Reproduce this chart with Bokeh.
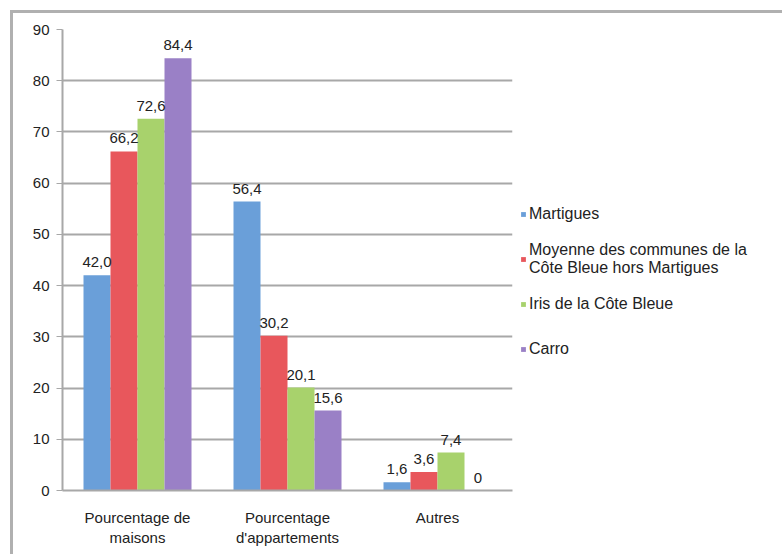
from bokeh.plotting import figure
from bokeh.models import ColumnDataSource, Legend, LegendItem, FactorRange, LabelSet
from bokeh.core.properties import value
from bokeh.transform import dodge
from bokeh.embed import file_html
from bokeh.resources import INLINE

categories = ["Pourcentage de\nmaisons", "Pourcentage\nd'appartements", "Autres"]
series = ["Martigues", "Moyenne des communes de la\nCôte Bleue hors Martigues", "Iris de la Côte Bleue", "Carro"]
martigues = [42.0, 56.4, 1.6]
moyenne = [66.2, 30.2, 3.6]
iris = [72.6, 20.1, 7.4]
carro = [84.4, 15.6, 0.0]
colors = ["#6a9fd9", "#e8575c", "#a8d26c", "#9a80c6"]
yticks = [0, 10, 20, 30, 40, 50, 60, 70, 80, 90]

FONT = "Liberation Sans"

p = figure(frame_width=450, frame_height=461, x_range=FactorRange(*categories), y_range=(0, 90),
           output_backend="svg", toolbar_location=None,
           min_border_left=49, min_border_right=258, min_border_top=16, min_border_bottom=64)
p.margin = (10, 0, 0, 10)
p.styles = {"border-top": "3px solid #b0b0b0", "border-left": "3px solid #b0b0b0"}
p.outline_line_color = None
p.xgrid.grid_line_color = None
p.ygrid.grid_line_color = "#a8a8a8"
p.ygrid.grid_line_width = 2
p.yaxis.ticker = yticks
p.yaxis.axis_line_color = "#a8a8a8"
p.yaxis.axis_line_width = 2
p.yaxis.major_tick_line_color = "#a8a8a8"
p.yaxis.major_tick_out = 6
p.yaxis.major_tick_in = 0
p.yaxis.minor_tick_line_color = None
p.yaxis.major_label_standoff = 7
p.yaxis.major_label_text_font = FONT
p.yaxis.major_label_text_font_size = "15px"
p.yaxis.major_label_text_color = "#222222"
p.xaxis.axis_line_color = "#a8a8a8"
p.xaxis.axis_line_width = 2
p.xaxis.major_tick_line_color = None
p.xaxis.major_label_text_font = FONT
p.xaxis.major_label_text_font_size = "15px"
p.xaxis.major_label_text_color = "#222222"
p.xaxis.major_label_standoff = 12

def fmt(v):
    return ("%.1f" % v).replace(".", ",") if v != 0 else "0"

values = [martigues, moyenne, iris, carro]
offsets = [-0.27, -0.09, 0.09, 0.27]
items = []
for name, vals, col, off in zip(series, values, colors, offsets):
    src = ColumnDataSource(dict(x=categories, top=vals, lab=[fmt(v) for v in vals]))
    r = p.vbar(x=dodge("x", off, range=p.x_range), top="top", width=0.18, source=src,
               fill_color=col, line_color=None)
    p.add_layout(LabelSet(x=dodge("x", off, range=p.x_range), y="top", text="lab", source=src,
                          text_align="center", text_baseline="bottom", y_offset=8,
                          text_font=value(FONT), text_font_size=value("15px"), text_color=value("#222222")))
    items.append(LegendItem(label=name, renderers=[r]))

legend = Legend(items=items, location=(8, 123), glyph_width=6, glyph_height=6,
                label_text_font=FONT, label_text_font_size="16px", label_text_color="#222222",
                spacing=8, label_height=37, label_standoff=3, border_line_color=None,
                background_fill_alpha=0, padding=0, margin=0)
p.add_layout(legend, "right")

open("out.html", "w").write(file_html(p, INLINE))
